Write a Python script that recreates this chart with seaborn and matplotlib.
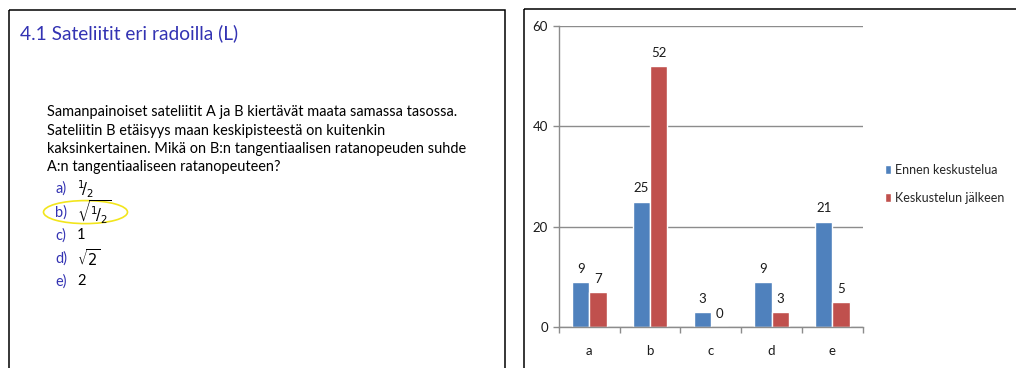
import matplotlib
matplotlib.use("Agg")
import matplotlib.pyplot as plt
from matplotlib.patches import Rectangle, Ellipse
import pandas as pd
import seaborn as sns

# --- data -------------------------------------------------------------
categories = ["a", "b", "c", "d", "e"]
before = [9, 25, 3, 9, 21]
after = [7, 52, 0, 3, 5]
series_names = ["Ennen keskustelua", "Keskustelun jälkeen"]
y_ticks = [0, 20, 40, 60]

title = "4.1 Sateliitit eri radoilla (L)"
question = [
    "Samanpainoiset sateliitit A ja B kiertävät maata samassa tasossa.",
    "Sateliitin B etäisyys maan keskipisteestä on kuitenkin",
    "kaksinkertainen. Mikä on B:n tangentiaalisen ratanopeuden suhde",
    "A:n tangentiaaliseen ratanopeuteen?",
]
option_keys = ["a)", "b)", "c)", "d)", "e)"]
option_values = [r"$^1\!/_2$", r"$\sqrt{^1\!/_2}$", "1", r"$\sqrt{2}$", "2"]
marked_option = 1

BLUE = "#4F81BD"
RED = "#C0504D"
STRUCT = "#3333B3"
GRID = "#8C8C8C"

df = pd.DataFrame({
    "vastaus": categories * 2,
    "määrä": before + after,
    "ajankohta": [series_names[0]] * len(categories) + [series_names[1]] * len(categories),
})

sns.set_theme(style="white")
plt.rcParams["font.family"] = ["Lato", "DejaVu Sans"]
plt.rcParams["mathtext.fontset"] = "dejavusans"

W, H = 1016, 368
fig = plt.figure(figsize=(W / 100, H / 100), dpi=100)
fig.patch.set_facecolor("white")

# --- bar chart ----------------------------------------------------------
x0, x1, y_top, y_bot = 559, 862.7, 26, 327
ax = fig.add_axes([x0 / W, (H - y_bot) / H, (x1 - x0) / W, (y_bot - y_top) / H])
sns.barplot(data=df, x="vastaus", y="määrä", hue="ajankohta",
            palette=[BLUE, RED], width=0.57, saturation=1, ax=ax)
for cont in ax.containers:
    ax.bar_label(cont, padding=5.2, fontsize=9.5, color="#1a1a1a")

ax.set_ylim(0, 60)
ax.set_xlim(-0.5, len(categories) - 0.5)
ax.set_yticks(y_ticks)
ax.set_xlabel("")
ax.set_ylabel("")
ax.yaxis.grid(True, color=GRID, linewidth=1)
ax.set_axisbelow(True)
for side in ["top", "right"]:
    ax.spines[side].set_visible(False)
for side in ["left", "bottom"]:
    ax.spines[side].set_color(GRID)
    ax.spines[side].set_linewidth(1)
ax.tick_params(axis="y", length=4, width=1, color=GRID, pad=4,
               labelsize=9.5, labelcolor="#1a1a1a", left=True)
ax.set_xticks(range(len(categories)))
ax.set_xticklabels(categories)
ax.set_xticks([i - 0.5 for i in range(len(categories) + 1)], minor=True)
ax.tick_params(axis="x", which="major", length=0, pad=13, labelsize=9.5,
               labelcolor="#1a1a1a")
ax.tick_params(axis="x", which="minor", length=4, width=1, color=GRID,
               bottom=True)

handles, labels = ax.get_legend_handles_labels()
ax.legend(handles, labels, loc="upper left",
          bbox_to_anchor=(885 / W, (H - 164) / H),
          bbox_transform=fig.transFigure, frameon=False, fontsize=9,
          handlelength=0.45, handleheight=0.7, handletextpad=0.35,
          labelspacing=1.25, borderpad=0, borderaxespad=0)

# --- slide panel and frames --------------------------------------------
ov = fig.add_axes([0, 0, 1, 1])
ov.set_xlim(0, W)
ov.set_ylim(H, 0)
ov.axis("off")

ov.add_patch(Rectangle((9, 10), 496, 400, fill=False, edgecolor="black",
                       linewidth=1.1))
ov.add_patch(Rectangle((523.5, 8.5), 600, 400, fill=False, edgecolor="black",
                       linewidth=1.1))

ov.text(20, 33, title, color=STRUCT, fontsize=13.8, va="center", ha="left")

for i, line in enumerate(question):
    ov.text(47, 112 + i * 18.5, line, fontsize=10.45, va="center", ha="left",
            color="black")

for i, (k, v) in enumerate(zip(option_keys, option_values)):
    yy = 189 + i * 23.1
    ov.text(55, yy, k, fontsize=10.45, va="center", ha="left", color=STRUCT)
    ov.text(77, yy, v, fontsize=10.5, va="center", ha="left", color="black")

yy = 189 + marked_option * 23.1
ov.add_patch(Ellipse((85.5, yy), 84, 23, fill=False, edgecolor="#F2E51C",
                     linewidth=1.2))

fig.savefig("out.png", dpi=100)
